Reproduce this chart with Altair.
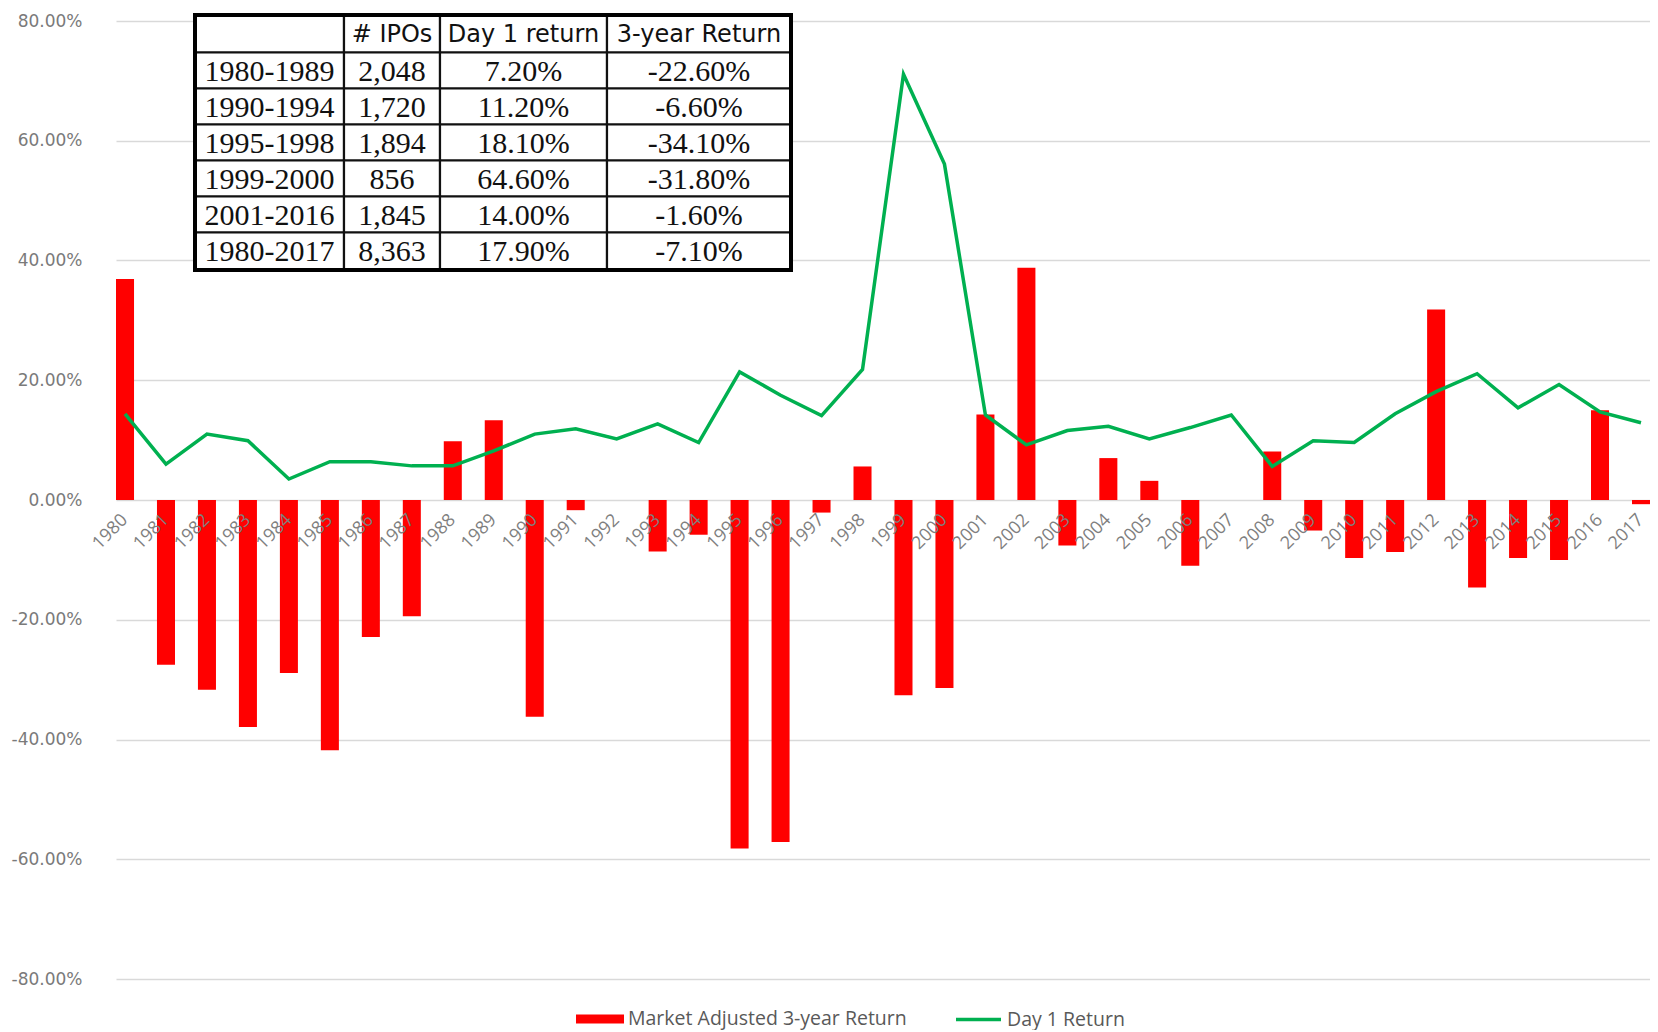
import altair as alt
import pandas as pd

# ---------------- data ----------------
years = [str(y) for y in range(1980, 2018)]
three_year_return = [36.9, -27.5, -31.7, -37.9, -28.9, -41.8, -22.9, -19.4, 9.8, 13.3,
                     -36.2, -1.7, 0.0, -8.6, -5.8, -58.2, -57.1, -2.1, 5.6, -32.6,
                     -31.4, 14.3, 38.8, -7.6, 7.0, 3.2, -11.0, 0.0, 8.1, -5.1,
                     -9.7, -8.7, 31.8, -14.6, -9.7, -10.0, 15.0, -0.7]
day1_return = [14.4, 6.0, 11.0, 9.9, 3.5, 6.4, 6.4, 5.7, 5.7, 8.2,
               11.0, 11.9, 10.2, 12.7, 9.6, 21.4, 17.5, 14.1, 21.8, 71.1,
               56.1, 14.2, 9.2, 11.6, 12.3, 10.2, 12.1, 14.2, 5.6, 9.9,
               9.6, 14.4, 18.1, 21.1, 15.4, 19.3, 14.7, 12.9]

bar_series = "Market Adjusted 3-year Return"
line_series = "Day 1 Return"

table_header = ["", "# IPOs", "Day 1 return", "3-year Return"]
table_period = ["1980-1989", "1990-1994", "1995-1998", "1999-2000", "2001-2016", "1980-2017"]
table_ipos = ["2,048", "1,720", "1,894", "856", "1,845", "8,363"]
table_day1 = ["7.20%", "11.20%", "18.10%", "64.60%", "14.00%", "17.90%"]
table_3yr = ["-22.60%", "-6.60%", "-34.10%", "-31.80%", "-1.60%", "-7.10%"]

# ---------------- layout ----------------
PLOT_W = 1534
PLOT_H = 958
PAD_LEFT = 108
PAD_TOP = 13
PAD_BOTTOM = 51
ORIGIN_X = 8 + PAD_LEFT
ORIGIN_Y = 8 + PAD_TOP
# table grid edges (page pixels)
col_edges = [195, 344, 440, 607, 791]
row_edges = [15, 52.5, 88.5, 124.5, 160.5, 196.5, 232.5, 270]

df = pd.DataFrame({
    "year": years,
    "three": [v / 100 for v in three_year_return],
    "day1": [v / 100 for v in day1_return],
    "s1": bar_series,
    "s2": line_series,
})

rows = [table_header] + [
    [p, i, d, t] for p, i, d, t in zip(table_period, table_ipos, table_day1, table_3yr)
]
cells = []
for r, row in enumerate(rows):
    for c, txt in enumerate(row):
        x0 = col_edges[c] - ORIGIN_X
        x1 = col_edges[c + 1] - ORIGIN_X
        y0 = row_edges[r] - ORIGIN_Y
        y1 = row_edges[r + 1] - ORIGIN_Y
        cells.append({"x0": x0, "x1": x1, "y0": y0, "y1": y1,
                      "xc": (x0 + x1) / 2, "yc": (y0 + y1) / 2,
                      "text": txt, "header": r == 0})
tdf = pd.DataFrame(cells)
border_df = pd.DataFrame([{
    "x0": col_edges[0] - ORIGIN_X, "x1": col_edges[-1] - ORIGIN_X,
    "y0": row_edges[0] - ORIGIN_Y, "y1": row_edges[-1] - ORIGIN_Y}])

# ---------------- main chart ----------------
x_enc = alt.X(
    "year:O",
    sort=None,
    scale=alt.Scale(paddingInner=0.56, paddingOuter=0),
    axis=alt.Axis(title=None, domain=False, ticks=False, grid=False,
                  labelAngle=-45, labelAlign="right", labelBaseline="middle",
                  labelPadding=17, labelFont="Open Sans", labelFontSize=18,
                  labelColor="#7f7f7f", labelOverlap=False,
                  offset=-PLOT_H / 2, zindex=1),
)
y_scale = alt.Scale(domain=[-0.8, 0.8], nice=False, zero=False)
y_axis = alt.Axis(
    title=None, values=[-0.8, -0.6, -0.4, -0.2, 0, 0.2, 0.4, 0.6, 0.8],
    labelExpr="replace(format(datum.value, '.2%'), '\u2212', '-')",
    domain=False, ticks=False, grid=True, gridColor="#d9d9d9", gridWidth=1.3,
    labelFont="DejaVu Sans", labelFontSize=17, labelColor="#7a7a7a",
    labelPadding=34,
)

legend_common = dict(orient="none", legendY=974, title=None, padding=0,
                     labelFont="Open Sans", labelFontSize=19.5,
                     labelColor="#595959", labelOffset=4, labelLimit=600)

bars = alt.Chart(df).mark_bar().encode(
    x=x_enc,
    y=alt.Y("three:Q", scale=y_scale, axis=y_axis),
    fill=alt.Fill("s1:N",
                  scale=alt.Scale(domain=[bar_series], range=["#ff0000"]),
                  legend=alt.Legend(legendX=460,
                                    symbolType="M-1,-0.19H1V0.19H-1Z",
                                    symbolSize=2304, symbolStrokeWidth=0,
                                    **legend_common)),
)

line = alt.Chart(df).mark_line(strokeWidth=3.5).encode(
    x=alt.X("year:O", sort=None),
    y=alt.Y("day1:Q", scale=y_scale),
    stroke=alt.Stroke("s2:N",
                      scale=alt.Scale(domain=[line_series], range=["#00b050"]),
                      legend=alt.Legend(legendX=838,
                                        symbolType="stroke", symbolSize=2025,
                                        symbolStrokeWidth=3.5,
                                        **legend_common)),
)

main = alt.layer(bars, line)

# ---------------- inset table ----------------
tx = alt.Scale(domain=[0, PLOT_W], nice=False, zero=False)
ty = alt.Scale(domain=[0, PLOT_H], nice=False, zero=False, reverse=True)

cell_rects = alt.Chart(tdf).mark_rect(fill="white", stroke="#111111", strokeWidth=2.2).encode(
    x=alt.X("x0:Q", scale=tx, axis=None), x2="x1:Q",
    y=alt.Y("y0:Q", scale=ty, axis=None), y2="y1:Q",
)
border = alt.Chart(border_df).mark_rect(filled=False, stroke="#000000", strokeWidth=4).encode(
    x=alt.X("x0:Q", scale=tx, axis=None), x2="x1:Q",
    y=alt.Y("y0:Q", scale=ty, axis=None), y2="y1:Q",
)
header_text = alt.Chart(tdf).transform_filter("datum.header").mark_text(
    font="DejaVu Sans", fontSize=24, color="#111111", align="center", baseline="middle", dy=1
).encode(
    x=alt.X("xc:Q", scale=tx, axis=None),
    y=alt.Y("yc:Q", scale=ty, axis=None),
    text="text:N",
)
body_text = alt.Chart(tdf).transform_filter("!datum.header").mark_text(
    font="Liberation Serif", fontSize=30, color="#111111", align="center", baseline="middle", dy=1
).encode(
    x=alt.X("xc:Q", scale=tx, axis=None),
    y=alt.Y("yc:Q", scale=ty, axis=None),
    text="text:N",
)
table = alt.layer(cell_rects, border, header_text, body_text)

chart = alt.layer(main, table).resolve_scale(
    x="independent", y="independent"
).properties(
    width=PLOT_W, height=PLOT_H,
    autosize=alt.AutoSizeParams(type="none"),
    padding={"left": PAD_LEFT, "top": PAD_TOP, "right": 0, "bottom": PAD_BOTTOM},
).configure_view(stroke=None)

chart.save("out.html", embed_options={"renderer": "svg", "actions": False})
